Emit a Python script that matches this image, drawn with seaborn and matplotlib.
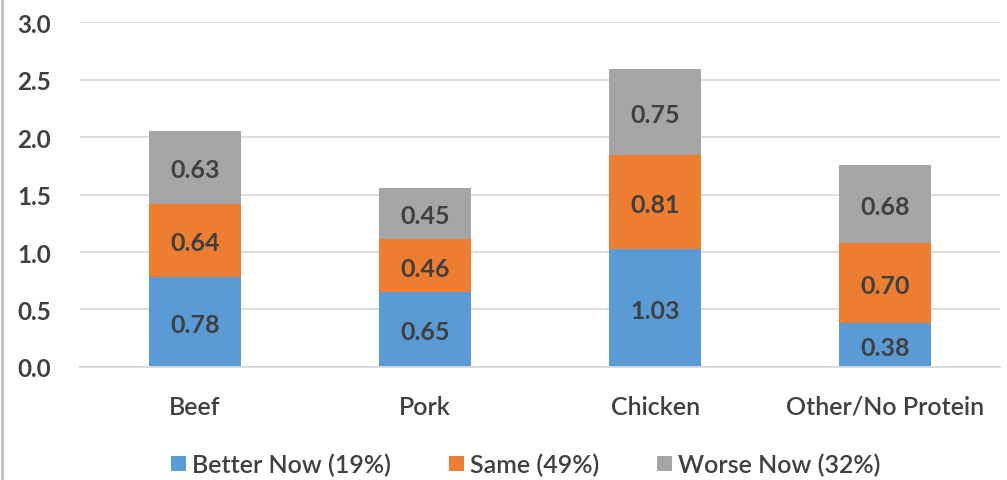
import seaborn as sns
import matplotlib.pyplot as plt
import pandas as pd
from matplotlib.patches import Patch
from matplotlib.lines import Line2D

# Data
categories = ['Beef', 'Pork', 'Chicken', 'Other/No Protein']
better = [0.78, 0.65, 1.03, 0.38]
same = [0.64, 0.46, 0.81, 0.70]
worse = [0.63, 0.45, 0.75, 0.68]
series = ['Better Now (19%)', 'Same (49%)', 'Worse Now (32%)']
colors = ['#5B9BD5', '#ED7D31', '#A5A5A5']

sns.set_style('white')
plt.rcParams['font.family'] = ['Lato', 'DejaVu Sans']
txt = '#404040'

df = pd.DataFrame({'cat': categories, 'b': better, 's': same, 'w': worse})
df['c1'] = df['b']
df['c2'] = df['b'] + df['s']
df['c3'] = df['c2'] + df['w']

fig = plt.figure(figsize=(10.07, 4.81), dpi=100)
ax = fig.add_axes([0.0794, 0.235, 0.914, 0.717])

# stacked: draw totals first, then smaller cumulative sums on top
for col, c in zip(['c3', 'c2', 'c1'], colors[::-1]):
    sns.barplot(data=df, x='cat', y=col, color=c, width=0.4, ax=ax,
                saturation=1, linewidth=0)

# segment labels
for i, row in df.iterrows():
    for lo, hi, v in [(0, row['c1'], row['b']), (row['c1'], row['c2'], row['s']),
                      (row['c2'], row['c3'], row['w'])]:
        ax.text(i, (lo + hi) / 2 - 0.02, f'{v:.2f}', ha='center', va='center',
                fontsize=18, fontweight='bold', color=txt)

ax.set_ylim(0, 3.0)
ax.set_yticks([0, 0.5, 1.0, 1.5, 2.0, 2.5, 3.0])
ax.set_yticklabels([f'{t:.1f}' for t in ax.get_yticks()])
ax.set_xlim(-0.5, 3.5)
ax.yaxis.grid(True, color='#D9D9D9', linewidth=1.3)
ax.set_axisbelow(True)
for s in ['top', 'right', 'left']:
    ax.spines[s].set_visible(False)
ax.spines['bottom'].set_color('#D9D9D9')
ax.spines['bottom'].set_linewidth(1.3)
ax.tick_params(axis='y', length=0, pad=21, labelsize=17.5, labelcolor=txt)
ax.tick_params(axis='x', length=0, pad=20, labelsize=18, labelcolor=txt)
for lab in ax.get_yticklabels():
    lab.set_fontweight('bold')
for lab in ax.get_xticklabels():
    lab.set_fontweight('semibold')
ax.set_xlabel('')
ax.set_ylabel('')

handles = [Patch(facecolor=c, edgecolor='none') for c in colors]
leg = fig.legend(handles, series, loc='center', bbox_to_anchor=(0.522, 0.032),
                 ncol=3, frameon=False, handlelength=0.6, handleheight=0.6,
                 handletextpad=0.25, columnspacing=2.3, fontsize=18)
for t in leg.get_texts():
    t.set_color(txt)
    t.set_fontweight('semibold')

# chart border on the left edge
fig.add_artist(Line2D([0.002, 0.002], [0, 1], color='#BFBFBF', linewidth=2,
                      transform=fig.transFigure))

plt.savefig('out.png', dpi=100)
